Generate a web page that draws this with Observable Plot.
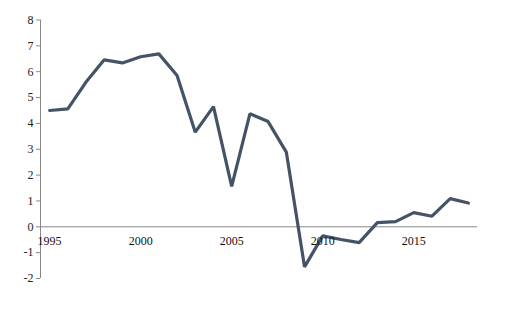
<!DOCTYPE html>
<html>
<head>
<meta charset="utf-8">
<script src="https://cdn.jsdelivr.net/npm/d3@7"></script>
<script src="https://cdn.jsdelivr.net/npm/@observablehq/plot@0.6"></script>
<style>
  html, body { margin: 0; padding: 0; background: #fff; }
  #chart svg { display: block; font-family: "Liberation Serif", "Times New Roman", serif !important; }
  #chart svg text { font-family: "Liberation Serif", "Times New Roman", serif !important; font-size: 12px; }
</style>
</head>
<body>
<div id="chart"></div>
<script>
const years = [1995,1996,1997,1998,1999,2000,2001,2002,2003,2004,2005,2006,2007,2008,2009,2010,2011,2012,2013,2014,2015,2016,2017,2018];
const values = [4.50,4.56,5.60,6.46,6.34,6.58,6.69,5.85,3.66,4.65,1.56,4.37,4.07,2.89,-1.55,-0.35,-0.49,-0.61,0.16,0.20,0.55,0.41,1.09,0.92];
const xTickLabels = [1995,2000,2005,2010,2015];
const yTicks = [-2,-1,0,1,2,3,4,5,6,7,8];

const data = years.map((year, i) => ({year, value: values[i]}));
const labelData = xTickLabels.map(year => ({year}));

const chart = Plot.plot({
  width: 506,
  height: 316,
  marginLeft: 40,
  marginRight: 29,
  marginTop: 19.5,
  marginBottom: 38,
  style: {fontFamily: "'Liberation Serif', 'Times New Roman', serif", fontSize: "12px", color: "#222", background: "#fff"},
  x: {domain: [years[0] - 0.5, years[years.length - 1] + 0.5], axis: null},
  y: {domain: [-2, 8], label: null},
  marks: [
    Plot.axisY({ticks: yTicks, tickSize: 4, tickPadding: 3, tickFormat: d => String(d), label: null, stroke: "#888", fill: "#222", fontFamily: "Liberation Serif"}),
    Plot.ruleX([years[0] - 0.5], {stroke: "#888", strokeWidth: 1}),
    Plot.ruleY([0], {stroke: "#888", strokeWidth: 1}),
    Plot.line(data, {x: "year", y: "value", stroke: "#455366", strokeWidth: 3.2, strokeLinejoin: "miter"}),
    Plot.text(labelData, {x: "year", y: () => 0, text: d => String(d.year), dy: 14, fill: "#111", fontSize: 12, fontFamily: "Liberation Serif"})
  ]
});
document.getElementById("chart").appendChild(chart);
</script>
</body>
</html>
